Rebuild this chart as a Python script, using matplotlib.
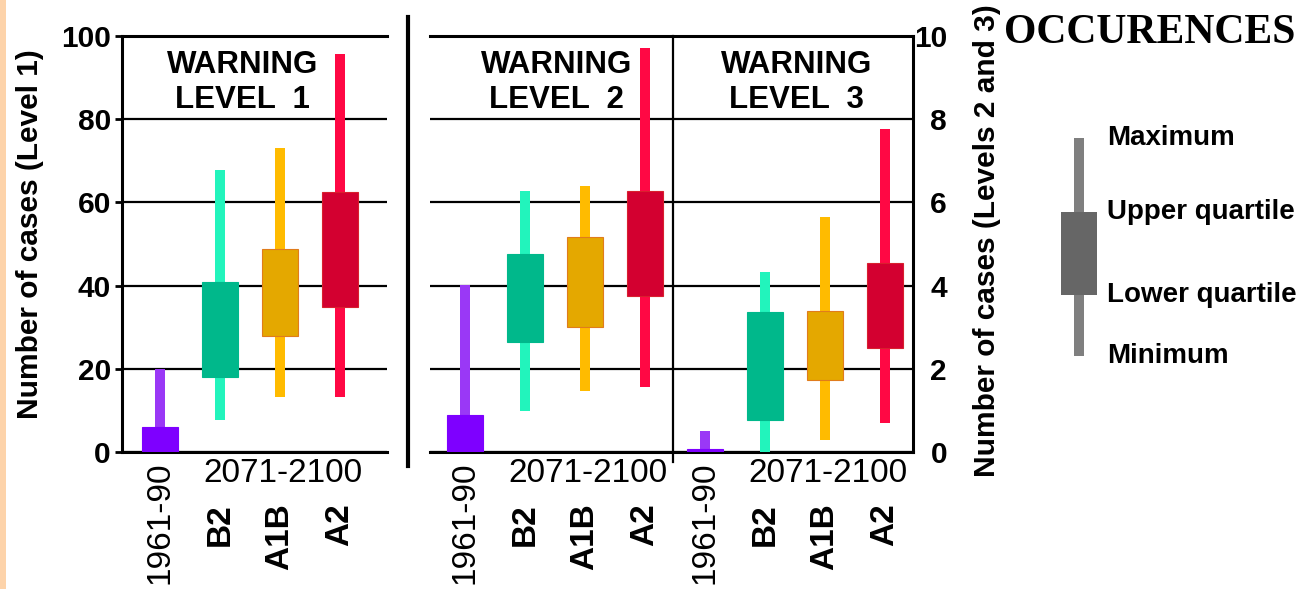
import numpy as np
import matplotlib
matplotlib.use("Agg")
import matplotlib.pyplot as plt
from matplotlib import font_manager as fm
from matplotlib.patches import Rectangle
from matplotlib.lines import Line2D


def pick(*names):
    for n in names:
        try:
            fm.findfont(fm.FontProperties(family=n), fallback_to_default=False)
            return n
        except Exception:
            pass
    return "DejaVu Sans"


SANS = pick("Liberation Sans", "Arial")
SERIF = pick("Liberation Serif", "DejaVu Serif")
plt.rcParams["font.family"] = [SANS, "DejaVu Sans"]

# ---- data -------------------------------------------------------------
periods = ["1961-90", "B2", "A1B", "A2"]
future_label = "2071-2100"

# Warning level 1 (left scale, 0-100)
l1_min = [0.0, 7.7, 13.3, 13.3]
l1_q1 = [0.0, 18.0, 27.9, 34.9]
l1_q3 = [6.1, 40.9, 48.7, 62.6]
l1_max = [19.9, 67.8, 73.0, 95.6]

# Warning level 2 (right scale, 0-10)
l2_min = [0.0, 0.99, 1.47, 1.57]
l2_q1 = [0.0, 2.64, 3.01, 3.75]
l2_q3 = [0.89, 4.75, 5.16, 6.28]
l2_max = [4.01, 6.28, 6.40, 9.70]

# Warning level 3 (right scale, 0-10)
l3_min = [0.0, 0.0, 0.30, 0.70]
l3_q1 = [0.0, 0.78, 1.73, 2.49]
l3_q3 = [0.07, 3.37, 3.38, 4.55]
l3_max = [0.51, 4.33, 5.64, 7.76]

left_ticks = [0, 20, 40, 60, 80, 100]
right_ticks = [0, 2, 4, 6, 8, 10]

legend_labels = ["Maximum", "Upper quartile", "Lower quartile", "Minimum"]
legend_key = [1.0, 0.66, 0.28, 0.0]  # max, q3, q1, min of the key glyph

box_colors = ["#7E00FF", "#00B88B", "#E4A800", "#D30030"]
box_edges = ["#7E00FF", "#00B88B", "#E07C1C", "#D8202E"]
whisker_colors = ["#9A38F6", "#22F4BC", "#FFBB00", "#FF0844"]

# ---- figure -------------------------------------------------------------
W, H = 1307, 589
fig = plt.figure(figsize=(W / 100, H / 100), dpi=100)
fig.patch.set_facecolor("white")


def px_rect(x0, y_top, x1, y_bot):
    return [x0 / W, 1 - y_bot / H, (x1 - x0) / W, (y_bot - y_top) / H]


BOX_W = 0.6
WHISK_W = 0.167
LW = 2.2


def draw_boxes(ax, xs, mins, q1, q3, maxs):
    ax.bar(xs, np.subtract(maxs, mins), bottom=mins, width=WHISK_W,
           color=whisker_colors, linewidth=0, zorder=3)
    ax.bar(xs, np.subtract(q3, q1), bottom=q1, width=BOX_W,
           color=box_colors, edgecolor=box_edges, linewidth=0.8, zorder=4)


def period_labels(ax, xs):
    tr = ax.get_xaxis_transform()
    for x, lab in zip(xs, periods):
        if lab == periods[0]:
            ax.text(x, -0.022, lab, transform=tr, rotation=90, ha="center",
                    va="top", fontsize=24, clip_on=False)
        else:
            ax.text(x, -0.124, lab, transform=tr, rotation=90, ha="center",
                    va="top", fontsize=24, fontweight="bold", clip_on=False)
    ax.text(xs[2] + 0.05, -0.052, future_label, transform=tr, ha="center",
            va="center", fontsize=24, clip_on=False)


def panel_title(ax, x, level, scale):
    ax.text(x, 0.911 * scale, "WARNING", ha="center", va="baseline",
            fontsize=22.5, fontweight="bold", zorder=5)
    ax.text(x, 0.827 * scale, f"LEVEL  {level}", ha="center", va="baseline",
            fontsize=22.5, fontweight="bold", zorder=5)


# Level 1 panel -----------------------------------------------------------
ax1 = fig.add_axes(px_rect(122, 36, 387, 452))
x1 = np.arange(len(periods))
draw_boxes(ax1, x1, l1_min, l1_q1, l1_q3, l1_max)
ax1.set_xlim(-0.633, 3.783)
ax1.set_ylim(0, 100)
ax1.set_yticks(left_ticks)
ax1.set_yticklabels([str(t) for t in left_ticks], fontsize=21.5, fontweight="bold")
ax1.tick_params(axis="y", direction="out", length=5, width=2, pad=3)
ax1.set_xticks([])
ax1.set_axisbelow(True)
ax1.yaxis.grid(True, color="black", linewidth=1.6)
for s in ("left", "top", "bottom"):
    ax1.spines[s].set_linewidth(LW)
ax1.spines["right"].set_visible(False)
ax1.patch.set_alpha(0)
period_labels(ax1, x1)
panel_title(ax1, 1.37, 1, 100)

# Levels 2 and 3 panel ----------------------------------------------------
ax2 = fig.add_axes(px_rect(430, 36, 913, 452))
x2 = np.arange(len(periods))
x3 = x2 + 4
draw_boxes(ax2, x2, l2_min, l2_q1, l2_q3, l2_max)
draw_boxes(ax2, x3, l3_min, l3_q1, l3_q3, l3_max)
ax2.set_xlim(-0.583, 7.467)
ax2.set_ylim(0, 10)
ax2.set_yticks(right_ticks)
ax2.yaxis.tick_right()
ax2.set_yticklabels([str(t) for t in right_ticks], fontsize=21.5, fontweight="bold")
ax2.tick_params(axis="y", length=0, pad=24.5)
for lab in ax2.get_yticklabels():
    lab.set_horizontalalignment("right")
ax2.set_xticks([])
ax2.set_axisbelow(True)
ax2.yaxis.grid(True, color="black", linewidth=1.6)
for s in ("right", "top", "bottom"):
    ax2.spines[s].set_linewidth(LW)
ax2.spines["left"].set_visible(False)
ax2.patch.set_alpha(0)
ax2.plot([3.467, 3.467], [-0.24, 10], color="black", linewidth=1.6,
         clip_on=False, zorder=2)
period_labels(ax2, x2)
period_labels(ax2, x3)
panel_title(ax2, 1.53, 2, 10)
panel_title(ax2, 5.52, 3, 10)

# axis titles
fig.text(30 / W, 1 - 234 / H, "Number of cases (Level 1)", rotation=90,
         ha="center", va="center", fontsize=21.5, fontweight="bold")
fig.text(987 / W, 1 - 241 / H, "Number of cases (Levels 2 and 3)", rotation=90,
         ha="center", va="center", fontsize=21.5, fontweight="bold")

# separator between the two panels
fig.add_artist(Line2D([408 / W, 408 / W], [1 - 17 / H, 1 - 466 / H],
                      transform=fig.transFigure, color="black", linewidth=3))

# page edge strip
fig.add_artist(Rectangle((0, 0), 6 / W, 1, transform=fig.transFigure,
                         facecolor="#FDD3AA", edgecolor="none"))

# heading
fig.text(1004 / W, 1 - 43 / H, "OCCURENCES", family=SERIF, fontweight="bold",
         fontsize=30, ha="left", va="baseline")

# key glyph
axk = fig.add_axes(px_rect(1049, 138, 1109, 356))
axk.set_xlim(-0.5, 0.5)
axk.set_ylim(0, 1)
axk.axis("off")
k_max, k_q3, k_q1, k_min = legend_key
axk.bar([0], [k_max - k_min], bottom=[k_min], width=WHISK_W, color="#7F7F7F", linewidth=0)
axk.bar([0], [k_q3 - k_q1], bottom=[k_q1], width=BOX_W, color="#666666", linewidth=0)
for val, lab in zip(legend_key, legend_labels):
    axk.text(0.47, val, lab, ha="left", va="center", fontsize=20,
             fontweight="bold", clip_on=False)

fig.savefig("out.png", dpi=100)
